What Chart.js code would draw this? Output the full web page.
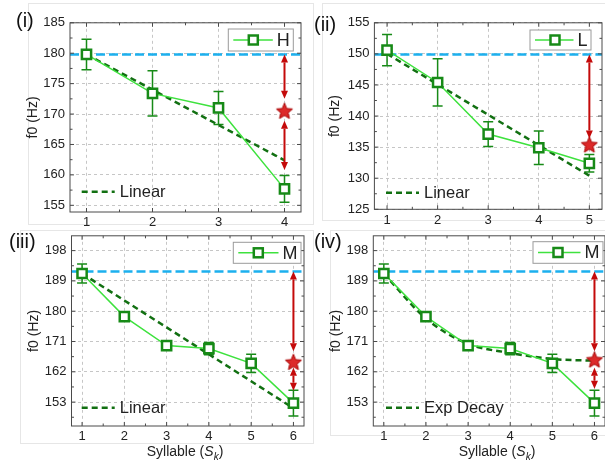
<!DOCTYPE html>
<html>
<head>
<meta charset="utf-8">
<title>f0 by syllable</title>
<script src="https://cdn.jsdelivr.net/npm/chart.js@4.4.1/dist/chart.umd.min.js"></script>
<style>
  html, body { margin: 0; padding: 0; background: #fff; overflow: hidden; }
  body { width: 605px; height: 460px; position: relative; font-family: "Liberation Sans", Arial, sans-serif; }
  canvas { position: absolute; }
  .frame { position: absolute; border: 1px solid #e6e6e6; box-sizing: border-box; }
  .tag { position: absolute; font-size: 20px; line-height: 20px; color: #111; }
  .xtitle { position: absolute; font-size: 14px; line-height: 16px; color: #222; white-space: nowrap; transform: translateX(-50%); }
  .xtitle sub { font-size: 10px; line-height: 0; }
</style>
</head>
<body>
<div class="frame" style="left:28px;top:3px;width:286px;height:222px"></div>
<div class="frame" style="left:322px;top:3px;width:290px;height:218px"></div>
<div class="frame" style="left:20px;top:230px;width:294px;height:214px"></div>
<div class="frame" style="left:330px;top:230px;width:290px;height:206px"></div>

<canvas id="p1"></canvas>
<canvas id="p2"></canvas>
<canvas id="p3"></canvas>
<canvas id="p4"></canvas>

<div class="tag" style="left:16px;top:10px">(i)</div>
<div class="tag" style="left:314px;top:14px">(ii)</div>
<div class="tag" style="left:9px;top:231px">(iii)</div>
<div class="tag" style="left:314px;top:231px">(iv)</div>
<div class="xtitle" style="left:185px;top:443px">Syllable (<i>S</i><sub><i>k</i></sub>)</div>
<div class="xtitle" style="left:497px;top:443px">Syllable (<i>S</i><sub><i>k</i></sub>)</div>

<script>
// (i) H tone
const syllH = [1, 2, 3, 4];
const f0H = [179.8, 173.4, 171.0, 157.7];
const errH = [2.5, 3.7, 2.7, 2.2];
const linearH = [179.8, 174.0, 168.2, 162.4];
const yTicksH = [155, 160, 165, 170, 175, 180, 185];
const refH = 179.8;
const starH = 170.4;
const arrowsH = [[179.8, 172.5], [168.9, 160.8]];

// (ii) L tone
const syllL = [1, 2, 3, 4, 5];
const f0L = [150.6, 145.4, 137.1, 134.9, 132.4];
const errL = [2.5, 3.8, 2.0, 2.7, 1.4];
const linearL = [150.0, 145.1, 140.2, 135.3, 130.4];
const yTicksL = [125, 130, 135, 140, 145, 150, 155];
const refL = 149.9;
const starL = 135.3;
const arrowsL = [[149.9, 136.4]];

// (iii) / (iv) M tone
const syllM = [1, 2, 3, 4, 5, 6];
const f0M = [191.2, 178.4, 169.8, 168.9, 164.5, 152.7];
const errM = [2.8, 1.0, 0.8, 1.8, 2.7, 3.8];
const linearM = [191.2, 183.2, 175.2, 167.2, 159.2, 151.2];
const expDecayM = [191.2, 177.8, 170.3, 167.6, 165.8, 165.3];
const yTicksM = [153, 162, 171, 180, 189, 198];
const refM = 191.8;
const starLinM = 164.7;
const starExpM = 165.4;
const arrowsLinM = [[191.8, 168.1], [163.2, 156.4]];
const arrowsExpM = [[191.8, 168.1], [163.2, 157.0]];

const FONT = '"Liberation Sans", Arial, sans-serif';
const DARK = '#178a17';
const LIGHT = '#3ee23e';
const FIT = '#127012';
const BLUE = '#1cb0ee';
const RED = '#c40a0a';

function makeStar(r) {
  const c = document.createElement('canvas');
  const s = Math.ceil(r * 2 + 3);
  c.width = c.height = s;
  const g = c.getContext('2d');
  g.beginPath();
  for (let i = 0; i < 10; i++) {
    const a = -Math.PI / 2 + i * Math.PI / 5;
    const rr = i % 2 ? r * 0.45 : r;
    g.lineTo(s / 2 + rr * Math.cos(a), s / 2 + rr * Math.sin(a));
  }
  g.closePath();
  g.fillStyle = '#dc2a2a';
  g.fill();
  g.strokeStyle = '#a80000';
  g.lineWidth = 1;
  g.stroke();
  return c;
}
const starImg = makeStar(8.5);

function arrow(ctx, x, y1, y2) {
  const hl = 8, hw = 3.5;
  const dir = y2 > y1 ? 1 : -1;
  ctx.beginPath();
  ctx.moveTo(x, y1 + dir * hl);
  ctx.lineTo(x, y2 - dir * hl);
  ctx.stroke();
  [[y1, -dir], [y2, dir]].forEach(([tip, d]) => {
    ctx.beginPath();
    ctx.moveTo(x, tip);
    ctx.lineTo(x - hw, tip - d * hl);
    ctx.lineTo(x + hw, tip - d * hl);
    ctx.closePath();
    ctx.fill();
  });
}

function minors(major, lo, hi) {
  const step = major[1] - major[0];
  const out = [];
  for (let v = major[0] - step / 2; v <= hi; v += step) if (v >= lo) out.push(v);
  return out;
}

const panels = [
  { id: 'p1', l: 70, t: 20, r: 306, b: 212, titleX: 33.5, xmin: 0.75, xmax: 4.25, ymin: 153.9, ymax: 185,
    xs: syllH, yTicks: yTicksH, vals: f0H, err: errH, fit: linearH, fitName: 'Linear', ref: refH,
    star: starH, arrows: arrowsH, name: 'H', box: [228.3, 29, 293.3, 51], fitLeg: [81.7, 191.7] },
  { id: 'p2', l: 374.4, t: 20.7, r: 606.2, b: 209.3, titleX: 335.5, xmin: 0.75, xmax: 5.25, ymin: 125, ymax: 155,
    xs: syllL, yTicks: yTicksL, vals: f0L, err: errL, fit: linearL, fitName: 'Linear', ref: refL,
    star: starL, arrows: arrowsL, name: 'L', box: [530, 30, 591, 50], fitLeg: [386, 192.7] },
  { id: 'p3', l: 71.5, t: 233.3, r: 308.5, b: 426, titleX: 34, xmin: 0.75, xmax: 6.25, ymin: 145.9, ymax: 202.4,
    xs: syllM, yTicks: yTicksM, vals: f0M, err: errM, fit: linearM, fitName: 'Linear', ref: refM,
    star: starLinM, arrows: arrowsLinM, name: 'M', box: [233.3, 242.3, 301, 263.3], fitLeg: [81.7, 407.7] },
  { id: 'p4', l: 373.3, t: 233.3, r: 609.8, b: 426, titleX: 336, xmin: 0.75, xmax: 6.25, ymin: 145.9, ymax: 202.4,
    xs: syllM, yTicks: yTicksM, vals: f0M, err: errM, fit: expDecayM, fitName: 'Exp Decay', ref: refM,
    star: starExpM, arrows: arrowsExpM, name: 'M', box: [533, 241.7, 603, 263.3], fitLeg: [386, 407.7] }
];

function decor(p, cl, ct) {
  return {
    id: 'decor',
    beforeDatasetsDraw(chart) {
      const { ctx, scales: { x, y } } = chart;
      ctx.save();
      ctx.strokeStyle = DARK;
      ctx.lineWidth = 1.5;
      p.vals.forEach((v, i) => {
        const px = x.getPixelForValue(p.xs[i]);
        const y1 = y.getPixelForValue(v + p.err[i]);
        const y2 = y.getPixelForValue(v - p.err[i]);
        ctx.beginPath();
        ctx.moveTo(px, y1); ctx.lineTo(px, y2);
        ctx.moveTo(px - 5, y1); ctx.lineTo(px + 5, y1);
        ctx.moveTo(px - 5, y2); ctx.lineTo(px + 5, y2);
        ctx.stroke();
      });
      ctx.restore();
    },
    afterDatasetsDraw(chart) {
      const { ctx, chartArea: a, scales: { x, y } } = chart;
      ctx.save();

      // red double arrows at the last syllable
      const ax = x.getPixelForValue(p.xs[p.xs.length - 1]);
      ctx.strokeStyle = RED;
      ctx.fillStyle = RED;
      ctx.lineWidth = 2;
      p.arrows.forEach(([v1, v2]) => arrow(ctx, ax, y.getPixelForValue(v1), y.getPixelForValue(v2)));

      // box frame with inward ticks
      ctx.strokeStyle = '#4a4a4a';
      ctx.lineWidth = 1;
      ctx.strokeRect(a.left, a.top, a.right - a.left, a.bottom - a.top);
      ctx.beginPath();
      const tickX = (vals, len) => vals.forEach(v => {
        const px = x.getPixelForValue(v);
        ctx.moveTo(px, a.bottom); ctx.lineTo(px, a.bottom - len);
        ctx.moveTo(px, a.top); ctx.lineTo(px, a.top + len);
      });
      const tickY = (vals, len) => vals.forEach(v => {
        const py = y.getPixelForValue(v);
        ctx.moveTo(a.left, py); ctx.lineTo(a.left + len, py);
        ctx.moveTo(a.right, py); ctx.lineTo(a.right - len, py);
      });
      tickX(p.xs, 4);
      tickX(minors(p.xs, p.xmin, p.xmax), 2.5);
      tickY(p.yTicks, 4);
      tickY(minors(p.yTicks, p.ymin, p.ymax), 2.5);
      ctx.stroke();

      // legend box (top right)
      const bx1 = p.box[0] - cl, by1 = p.box[1] - ct, bx2 = p.box[2] - cl, by2 = p.box[3] - ct;
      ctx.fillStyle = '#fff';
      ctx.fillRect(bx1, by1, bx2 - bx1, by2 - by1);
      ctx.strokeStyle = '#9a9a9a';
      ctx.strokeRect(bx1, by1, bx2 - bx1, by2 - by1);
      const cy = (by1 + by2) / 2;
      ctx.font = '18px ' + FONT;
      ctx.textAlign = 'right';
      ctx.textBaseline = 'middle';
      const tw = ctx.measureText(p.name).width;
      ctx.strokeStyle = LIGHT;
      ctx.lineWidth = 1.5;
      ctx.beginPath();
      ctx.moveTo(bx1 + 5, cy);
      ctx.lineTo(bx2 - 3.5 - tw - 4, cy);
      ctx.stroke();
      ctx.fillStyle = '#fff';
      ctx.strokeStyle = DARK;
      ctx.lineWidth = 2.5;
      ctx.fillRect(bx1 + 20.5, cy - 4.5, 9, 9);
      ctx.strokeRect(bx1 + 20.5, cy - 4.5, 9, 9);
      ctx.fillStyle = '#222';
      ctx.fillText(p.name, bx2 - 3.5, cy + 1);

      // fit legend (bottom left)
      const fx = p.fitLeg[0] - cl, fy = p.fitLeg[1] - ct;
      ctx.strokeStyle = FIT;
      ctx.lineWidth = 2.5;
      ctx.setLineDash([6, 4]);
      ctx.beginPath();
      ctx.moveTo(fx, fy);
      ctx.lineTo(fx + 33, fy);
      ctx.stroke();
      ctx.setLineDash([]);
      ctx.font = '16.5px ' + FONT;
      ctx.textAlign = 'left';
      ctx.fillText(p.fitName, fx + 38, fy + 1);

      ctx.restore();
    }
  };
}

function build(p) {
  const cv = document.getElementById(p.id);
  const cl = Math.round(p.titleX - 12.4);
  const ct = Math.floor(p.t - 10);
  const W = Math.ceil(p.r + 4) - cl;
  const H = Math.ceil(p.b + 24) - ct;
  const yw = p.l - cl;
  const padT = p.t - ct;
  const padR = W - yw - (p.r - p.l);
  const xh = H - padT - (p.b - p.t);
  cv.width = W;
  cv.height = H;
  cv.style.left = cl + 'px';
  cv.style.top = ct + 'px';

  const pts = vals => p.xs.map((x, i) => ({ x: x, y: vals[i] }));
  const grid = { color: '#c6c6c6', lineWidth: 1, drawTicks: false };
  const border = { display: false, dash: [3, 3] };
  const tickFont = { family: FONT, size: 13 };

  return new Chart(cv, {
    type: 'line',
    data: {
      datasets: [
        { data: pts(p.vals), borderColor: LIGHT, borderWidth: 1.5, pointStyle: 'rect', pointRadius: 6.5,
          pointBorderWidth: 2.5, pointBorderColor: DARK, pointBackgroundColor: '#fff', order: 1 },
        { data: [{ x: p.xs[p.xs.length - 1], y: p.star }], showLine: false, pointStyle: starImg,
          pointRadius: 8, order: 0 },
        { data: pts(p.fit), borderColor: FIT, borderWidth: 2.5, borderDash: [6, 4], pointRadius: 0,
          cubicInterpolationMode: 'monotone', order: 2 },
        { data: [{ x: p.xmin, y: p.ref }, { x: p.xmax, y: p.ref }], borderColor: BLUE, borderWidth: 2.5,
          borderDash: [9, 4], pointRadius: 0, order: 3 }
      ]
    },
    options: {
      responsive: false,
      animation: false,
      events: [],
      layout: { padding: { left: 0, top: padT, right: padR, bottom: 0 } },
      plugins: { legend: { display: false }, tooltip: { enabled: false } },
      scales: {
        x: {
          type: 'linear', min: p.xmin, max: p.xmax,
          afterBuildTicks: s => { s.ticks = p.xs.map(v => ({ value: v })); },
          afterFit: s => { s.height = xh; },
          grid: grid, border: border,
          ticks: { font: tickFont, color: '#222', padding: 3, autoSkip: false, maxRotation: 0 }
        },
        y: {
          type: 'linear', min: p.ymin, max: p.ymax,
          afterBuildTicks: s => { s.ticks = p.yTicks.map(v => ({ value: v })); },
          afterFit: s => { s.width = yw; },
          grid: grid, border: border,
          ticks: { font: tickFont, color: '#222', padding: 5 },
          title: { display: true, text: 'f0 (Hz)', font: { family: FONT, size: 14 }, color: '#222',
            padding: { top: 4, bottom: 4 } }
        }
      }
    },
    plugins: [decor(p, cl, ct)]
  });
}

panels.forEach(build);
</script>
</body>
</html>
